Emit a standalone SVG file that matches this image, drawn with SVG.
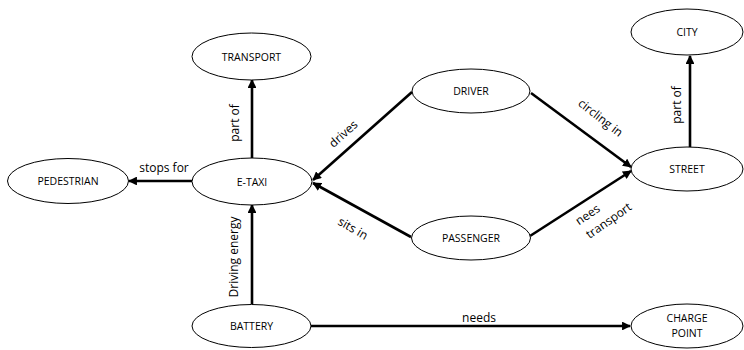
<svg xmlns="http://www.w3.org/2000/svg" width="744" height="350" viewBox="0 0 744 350">
<style>
.n ellipse{fill:#fff;stroke:#000;stroke-width:1}
.n text{font-family:"Open Sans","Noto Sans",sans-serif;font-size:10.5px;fill:#000;text-anchor:middle}
.c line{stroke:#000;stroke-width:2.6;marker-end:url(#ah)}
.l{font-family:"Open Sans","Noto Sans",sans-serif;font-size:12px;fill:#000;text-anchor:middle}
</style>
<defs>
<marker id="ah" viewBox="0 0 10 10" refX="9" refY="5" markerWidth="3.6" markerHeight="3.4" orient="auto" markerUnits="strokeWidth">
<path d="M0,0 L10,5 L0,10 Z" fill="#000"/>
</marker>
</defs>
<rect width="744" height="350" fill="#fff"/>
<g class="c" id="connectors">
<line x1="252" y1="158" x2="252" y2="80"/>
<line x1="192" y1="181" x2="129" y2="181"/>
<line x1="412" y1="92" x2="313" y2="180"/>
<line x1="411" y1="237" x2="313" y2="183"/>
<line x1="531" y1="93" x2="631" y2="167"/>
<line x1="530" y1="236" x2="631" y2="171"/>
<line x1="690" y1="147" x2="690" y2="56"/>
<line x1="252" y1="304" x2="252" y2="205"/>
<line x1="311" y1="326" x2="630" y2="326"/>
</g>
<g id="labels">
<text class="l" transform="translate(239,123) rotate(-90)">part of</text>
<text class="l" x="164" y="172">stops for</text>
<text class="l" transform="translate(346,137) rotate(-42)">drives</text>
<text class="l" transform="translate(351,232) rotate(30)">sits in</text>
<text class="l" transform="translate(598,121) rotate(38)">circling in</text>
<text class="l" transform="translate(590,218) rotate(-35)">nees</text>
<text class="l" transform="translate(611,224) rotate(-35)">transport</text>
<text class="l" transform="translate(681,105) rotate(-90)">part of</text>
<text class="l" transform="translate(238,257) rotate(-90)">Driving energy</text>
<text class="l" x="479" y="322">needs</text>
</g>
<g class="n" id="transport"><ellipse cx="251.5" cy="56.5" rx="59.5" ry="23.5"/><text x="251.5" y="60.5">TRANSPORT</text></g>
<g class="n" id="etaxi"><ellipse cx="252" cy="181.5" rx="60" ry="23.5"/><text x="252" y="185.5">E-TAXI</text></g>
<g class="n" id="pedestrian"><ellipse cx="68" cy="181" rx="60.5" ry="22.5"/><text x="68" y="185">PEDESTRIAN</text></g>
<g class="n" id="driver"><ellipse cx="471" cy="91" rx="59" ry="22"/><text x="471" y="95">DRIVER</text></g>
<g class="n" id="city"><ellipse cx="687" cy="32" rx="56" ry="23"/><text x="687" y="36">CITY</text></g>
<g class="n" id="street"><ellipse cx="687" cy="169" rx="56" ry="22"/><text x="687" y="173">STREET</text></g>
<g class="n" id="passenger"><ellipse cx="471" cy="238" rx="59.5" ry="22"/><text x="471" y="242">PASSENGER</text></g>
<g class="n" id="battery"><ellipse cx="251.5" cy="326" rx="59.5" ry="21.5"/><text x="251.5" y="330">BATTERY</text></g>
<g class="n" id="chargepoint"><ellipse cx="687" cy="326" rx="56" ry="22"/><text x="687" y="322">CHARGE</text><text x="687" y="337">POINT</text></g>
</svg>
